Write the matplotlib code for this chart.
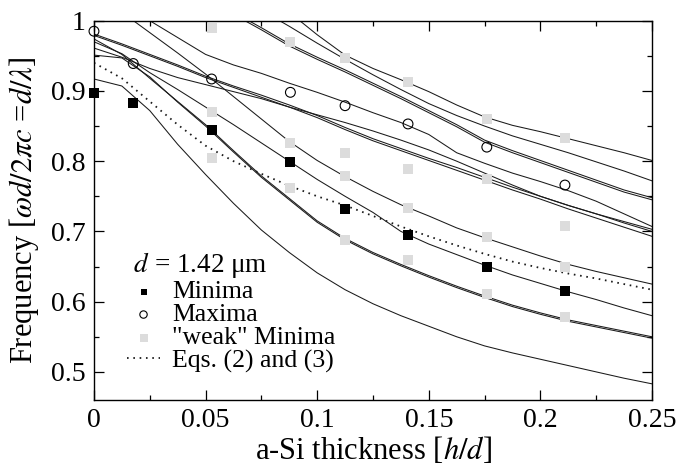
import numpy as np
import matplotlib
matplotlib.use('Agg')
import matplotlib.pyplot as plt
from matplotlib.ticker import MultipleLocator

plt.rcParams['font.family'] = ['Liberation Serif', 'DejaVu Serif']
plt.rcParams['mathtext.fontset'] = 'stix'

# ---- data ----
h_grid = [0, 0.0125, 0.025, 0.0375, 0.05, 0.0625, 0.075, 0.0875, 0.1, 0.1125, 0.125,
          0.1375, 0.15, 0.1625, 0.175, 0.1875, 0.2, 0.2125, 0.225, 0.2375, 0.25]
nan = np.nan

band_a = [0.917, 0.907, 0.872, 0.824, 0.781, 0.740, 0.702, 0.670, 0.641, 0.617, 0.597,
          0.580, 0.565, 0.550, 0.537, 0.527, 0.518, 0.509, 0.500, 0.491, 0.483]
band_b1 = [0.974, 0.952, 0.918, 0.885, 0.852, 0.815, 0.779, 0.747, 0.715, 0.690, 0.670,
           0.653, 0.637, 0.622, 0.608, 0.595, 0.584, 0.574, 0.566, 0.558, 0.550]
band_b2 = [0.951, 0.947, 0.920, 0.884, 0.850, 0.813, 0.777, 0.745, 0.713, 0.688, 0.668,
           0.651, 0.635, 0.620, 0.606, 0.593, 0.582, 0.572, 0.564, 0.556, 0.548]
band_c = [0.970, 0.953, 0.926, 0.902, 0.877, 0.852, 0.826, 0.800, 0.774, 0.750, 0.727,
          0.700, 0.682, 0.667, 0.652, 0.638, 0.626, 0.614, 0.603, 0.591, 0.580]
band_d = [nan, 1.012, 0.983, 0.954, 0.924, 0.892, 0.860, 0.828, 0.801, 0.778, 0.757,
          0.738, 0.722, 0.705, 0.691, 0.678, 0.665, 0.653, 0.643, 0.634, 0.625]
band_s = [0.961, 0.948, 0.932, 0.919, 0.909, 0.899, 0.889, 0.877, 0.866, 0.855, 0.843,
          0.830, 0.816, 0.800, 0.783, 0.766, 0.750, 0.737, 0.725, 0.714, 0.703]
band_t1 = [0.981, 0.967, 0.952, 0.937, 0.921, 0.907, 0.894, 0.880, 0.865, 0.848, 0.832,
           0.818, 0.804, 0.791, 0.777, 0.763, 0.750, 0.737, 0.725, 0.712, 0.700]
band_t2 = [0.979, 0.965, 0.950, 0.935, 0.919, 0.905, 0.891, 0.877, 0.862, 0.845, 0.829,
           0.815, 0.801, 0.787, 0.773, 0.759, 0.746, 0.732, 0.719, 0.706, 0.693]
band_u = [nan, nan, 1.000, 0.976, 0.952, 0.937, 0.925, 0.911, 0.898, 0.884, 0.869,
          0.855, 0.838, 0.812, 0.797, 0.783, 0.771, 0.758, 0.743, 0.725, 0.707]
band_r1 = [nan, nan, nan, nan, nan, nan, nan, 1.012, 0.980, 0.951, 0.932,
           0.916, 0.899, 0.880, 0.863, 0.851, 0.842, 0.832, 0.822, 0.812, 0.801]
band_r2 = [nan, nan, nan, nan, nan, nan, 1.015, 0.992, 0.968, 0.945, 0.923,
           0.902, 0.882, 0.865, 0.850, 0.836, 0.824, 0.812, 0.799, 0.786, 0.772]
band_r3 = [nan, nan, nan, nan, nan, 1.012, 0.990, 0.967, 0.948, 0.930, 0.911,
           0.892, 0.872, 0.852, 0.830, 0.815, 0.801, 0.787, 0.773, 0.759, 0.748]
band_r4 = [nan, nan, nan, nan, nan, 1.009, 0.987, 0.964, 0.945, 0.927, 0.908,
           0.889, 0.869, 0.849, 0.827, 0.812, 0.798, 0.784, 0.770, 0.756, 0.745]
eqs_curve = [0.940, 0.918, 0.885, 0.852, 0.822, 0.800, 0.782, 0.765, 0.750, 0.737, 0.722,
             0.707, 0.693, 0.680, 0.668, 0.657, 0.648, 0.640, 0.633, 0.625, 0.617]

h_meas = [0, 0.0176, 0.0527, 0.088, 0.1125, 0.1407, 0.176, 0.211]
minima = [0.897, 0.883, 0.845, 0.799, 0.732, 0.695, 0.650, 0.615]
maxima = [0.985, 0.939, 0.917, 0.898, 0.879, 0.853, 0.820, 0.766]

weak_h = [0.0527, 0.0527, 0.0527, 0.088, 0.088, 0.088,
          0.1125, 0.1125, 0.1125, 0.1125, 0.1407, 0.1407, 0.1407, 0.1407,
          0.176, 0.176, 0.176, 0.176, 0.211, 0.211, 0.211, 0.211]
weak_f = [0.990, 0.870, 0.805, 0.969, 0.826, 0.762,
          0.947, 0.812, 0.779, 0.688, 0.912, 0.789, 0.734, 0.659,
          0.860, 0.775, 0.692, 0.611, 0.833, 0.708, 0.649, 0.578]

bands = [band_a, band_b1, band_b2, band_c, band_d, band_s, band_t1, band_t2,
         band_u, band_r1, band_r2, band_r3, band_r4]

# ---- figure ----
fig = plt.figure(figsize=(6.79, 4.67), dpi=100)
ax = fig.add_axes([0.1384, 0.1435, 0.8218, 0.8122])

for b in bands:
    ax.plot(h_grid, b, color='#1a1a1a', lw=0.75, zorder=2)
ln_eq, = ax.plot(h_grid, eqs_curve, color='#1a1a1a', lw=1.3, ls=(0, (0.9, 2.6)),
                 zorder=2, label='Eqs. (2) and (3)')

sc_min = ax.scatter(h_meas, minima, marker='s', s=42, color='black', zorder=5,
                    linewidths=0, label='Minima', clip_on=False)
sc_max = ax.scatter(h_meas, maxima, marker='o', s=50, facecolors='none',
                    edgecolors='black', linewidths=0.8, zorder=5, label='Maxima',
                    clip_on=False)
sc_weak = ax.scatter(weak_h, weak_f, marker='s', s=60, color='#dcdcdc', zorder=4,
                     linewidths=0, label='"weak" Minima', clip_on=False)

ax.set_xlim(0, 0.25)
ax.set_ylim(0.46, 1.0)
ax.xaxis.set_minor_locator(MultipleLocator(0.025))
ax.yaxis.set_minor_locator(MultipleLocator(0.05))
ax.set_xticks([0, 0.05, 0.1, 0.15, 0.2, 0.25])
ax.set_xticklabels(['0', '0.05', '0.1', '0.15', '0.2', '0.25'])
ax.set_yticks([0.5, 0.6, 0.7, 0.8, 0.9, 1.0])
ax.set_yticklabels(['0.5', '0.6', '0.7', '0.8', '0.9', '1'])
ax.tick_params(which='both', direction='in', top=True, right=True, labelsize=20,
               width=0.9)
ax.tick_params(which='major', length=7, pad=6)
ax.tick_params(which='minor', length=3.5)
for sp in ax.spines.values():
    sp.set_linewidth(1.0)

ax.set_xlabel('a-Si thickness [$h/d$]', fontsize=22, labelpad=1)
ax.set_ylabel(r'Frequency [$\omega d/2\pi c$ =$d/\lambda$]', fontsize=22, labelpad=7)

leg = ax.legend(handles=[sc_min, sc_max, sc_weak, ln_eq],
                title=' $d$ = 1.42 μm', loc='lower left',
                bbox_to_anchor=(0.06, 0.072), frameon=False, fontsize=18.5,
                title_fontsize=19.5, handlelength=1.25, handletextpad=0.5,
                labelspacing=0.0, borderpad=0, borderaxespad=0,
                markerscale=0.75, alignment='left')

fig.savefig('out.png', dpi=100)
